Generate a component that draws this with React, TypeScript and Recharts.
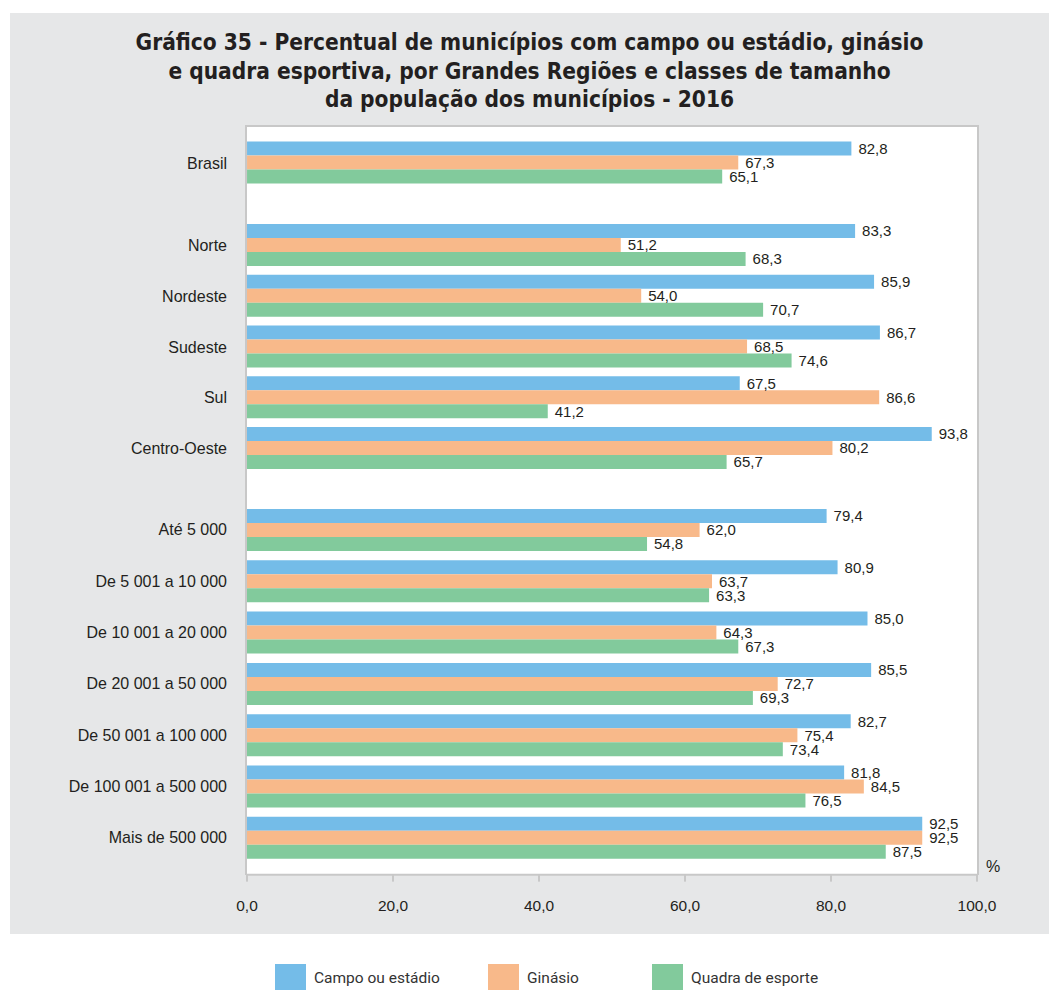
import React from 'react';
import { BarChart, Bar, XAxis, YAxis, LabelList } from 'recharts';

// ---------- data ----------
const brasilCategories = ['Brasil'];
const regionCategories = ['Norte', 'Nordeste', 'Sudeste', 'Sul', 'Centro-Oeste'];
const sizeCategories = [
  'Até 5 000',
  'De 5 001 a 10 000',
  'De 10 001 a 20 000',
  'De 20 001 a 50 000',
  'De 50 001 a 100 000',
  'De 100 001 a 500 000',
  'Mais de 500 000',
];

// values in order: Brasil, regions (5), size classes (7)
const campoValues = [82.8, 83.3, 85.9, 86.7, 67.5, 93.8, 79.4, 80.9, 85.0, 85.5, 82.7, 81.8, 92.5];
const ginasioValues = [67.3, 51.2, 54.0, 68.5, 86.6, 80.2, 62.0, 63.7, 64.3, 72.7, 75.4, 84.5, 92.5];
const quadraValues = [65.1, 68.3, 70.7, 74.6, 41.2, 65.7, 54.8, 63.3, 67.3, 69.3, 73.4, 76.5, 87.5];

const xTicks = [0, 20, 40, 60, 80, 100];

const series = [
  { key: 'campo', name: 'Campo ou estádio', color: '#74bce8' },
  { key: 'ginasio', name: 'Ginásio', color: '#f8b98a' },
  { key: 'quadra', name: 'Quadra de esporte', color: '#82ca9c' },
];

const titleLines = [
  'Gráfico 35 - Percentual de municípios com campo ou estádio, ginásio',
  'e quadra esportiva, por Grandes Regiões e classes de tamanho',
  'da população dos municípios - 2016',
];

// ---------- build rows ----------
const allCategories = [...brasilCategories, ...regionCategories, ...sizeCategories];
const allRows = allCategories.map((name, i) => ({
  name,
  campo: campoValues[i],
  ginasio: ginasioValues[i],
  quadra: quadraValues[i],
}));
const rowsA = allRows.slice(0, brasilCategories.length);
const rowsB = allRows.slice(brasilCategories.length, brasilCategories.length + regionCategories.length);
const rowsC = allRows.slice(brasilCategories.length + regionCategories.length);

// ---------- layout ----------
const W = 1049;
const PLOT_L = 247;
const PLOT_R = 977;
const PLOT_T = 127;
const PLOT_B = 875;
const BAR = 14;
const SLOT_A = 50.8;
const SLOT_B = 50.75;
const SLOT_C = 51.3;
const A_TOP = PLOT_T;
const A_PAD = 10.6;
const B_TOP = 219.6;
const C_TOP = 504.35;
const X_AXIS_H = 45;

const FONT = '"Liberation Sans", Arial, Helvetica, sans-serif';
const TEXT = '#231f20';
const GRID = '#c8c8c8';

const fmt = (v: number) => Number(v).toFixed(1).replace('.', ',');

const yTick = { fontSize: 16, fill: TEXT, fontFamily: FONT };

function bars() {
  return series.map((s) => (
    <Bar key={s.key} dataKey={s.key} name={s.name} fill={s.color} barSize={BAR} isAnimationActive={false}>
      <LabelList
        dataKey={s.key}
        position="right"
        offset={7}
        formatter={(v: any) => fmt(v)}
        style={{ fontSize: 15, fill: TEXT, fontFamily: FONT }}
      />
    </Bar>
  ));
}

function Group({ rows, top, height, marginTop, padBottom, showX }: any) {
  return (
    <div style={{ position: 'absolute', left: 0, top }}>
      <BarChart
        width={W}
        height={height}
        data={rows}
        layout="vertical"
        barGap={0}
        margin={{ top: marginTop || 0, right: W - PLOT_R, bottom: 0, left: 0 }}
        style={{ fontFamily: FONT }}
      >
        <XAxis
          type="number"
          domain={[0, 100]}
          ticks={xTicks}
          hide={!showX}
          height={showX ? X_AXIS_H : 0}
          tickFormatter={fmt}
          axisLine={{ stroke: GRID, strokeWidth: 2 }}
          tickLine={{ stroke: GRID, strokeWidth: 2 }}
          tickSize={7}
          tickMargin={18}
          tick={{ fontSize: 15.5, fill: TEXT, fontFamily: FONT }}
          interval={0}
        />
        <YAxis
          type="category"
          dataKey="name"
          width={PLOT_L}
          axisLine={false}
          tickLine={false}
          tickSize={6}
          tickMargin={14}
          tick={yTick}
          interval={0}
          padding={{ top: 0, bottom: padBottom || 0 }}
        />
        {bars()}
      </BarChart>
    </div>
  );
}

export default function App() {
  const cPlotH = PLOT_B - C_TOP;
  const cPad = cPlotH - SLOT_C * rowsC.length;
  return (
    <div
      style={{
        position: 'absolute',
        left: 0,
        top: 0,
        width: W,
        height: 990,
        overflow: 'hidden',
        background: '#ffffff',
        fontFamily: FONT,
      }}
    >
      {/* grey panel */}
      <div style={{ position: 'absolute', left: 10, top: 13, width: W - 10, height: 921, background: '#e6e7e8' }} />
      {/* title */}
      <div
        style={{
          position: 'absolute',
          left: 10,
          top: 28,
          width: W - 10,
          textAlign: 'center',
          fontFamily: '"DejaVu Sans Condensed", "Liberation Sans Narrow", Arial, sans-serif',
          fontWeight: 'bold',
          fontSize: 22.5,
          lineHeight: '28.5px',
          color: TEXT,
        }}
      >
        {titleLines.map((t) => (
          <div key={t}>{t}</div>
        ))}
      </div>
      {/* white plot area */}
      <div
        style={{
          position: 'absolute',
          left: PLOT_L - 2,
          top: PLOT_T - 2,
          width: PLOT_R - PLOT_L + 4,
          height: PLOT_B - PLOT_T + 2,
          background: '#ffffff',
          borderTop: `2px solid ${GRID}`,
          borderLeft: `2px solid ${GRID}`,
          borderRight: `2px solid ${GRID}`,
          boxSizing: 'border-box',
        }}
      />
      <Group rows={rowsA} top={A_TOP} height={A_PAD + SLOT_A * rowsA.length} marginTop={A_PAD} />
      <Group rows={rowsB} top={B_TOP} height={SLOT_B * rowsB.length} />
      <Group rows={rowsC} top={C_TOP} height={cPlotH + X_AXIS_H} padBottom={cPad} showX />
      {/* unit */}
      <div
        style={{
          position: 'absolute',
          left: 986,
          top: 857,
          fontSize: 16,
          color: TEXT,
          fontFamily: FONT,
          lineHeight: '20px',
        }}
      >
        %
      </div>
      {/* legend */}
      {series.map((s, i) => (
        <div
          key={s.key}
          style={{
            position: 'absolute',
            left: [275, 488, 652][i],
            top: 964,
            display: 'flex',
            alignItems: 'center',
            height: 26,
          }}
        >
          <div style={{ width: 31, height: 31, background: s.color, marginRight: 8, marginTop: 5 }} />
          <span style={{ fontFamily: 'Roboto, sans-serif', fontSize: 15.5, color: '#333333', marginTop: 1 }}>{s.name}</span>
        </div>
      ))}
    </div>
  );
}
